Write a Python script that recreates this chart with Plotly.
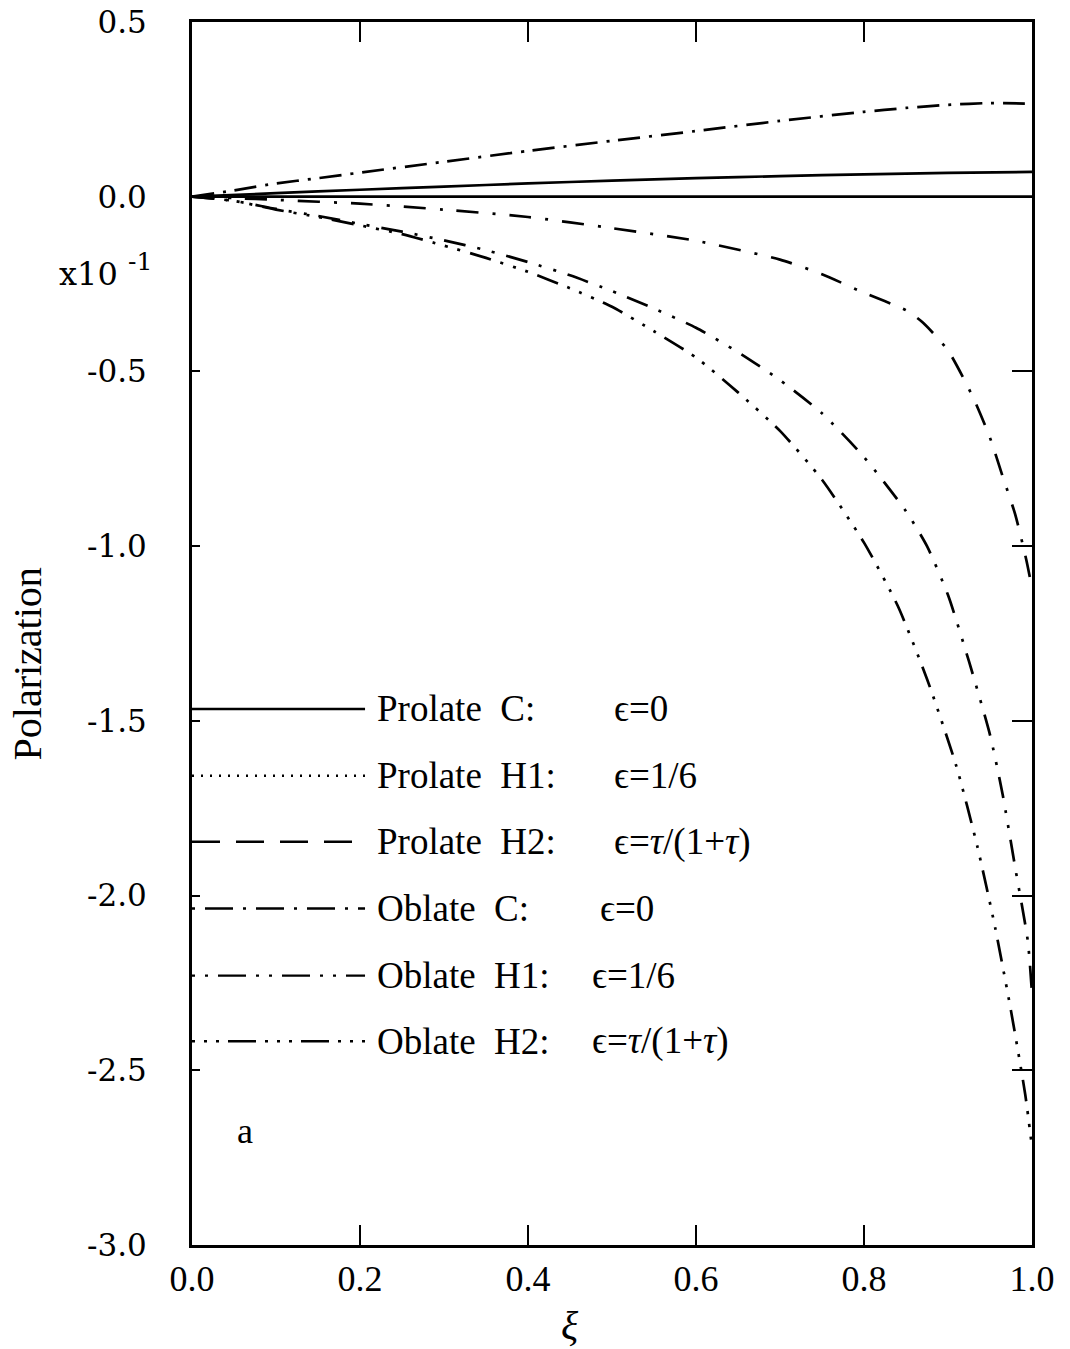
import plotly.graph_objects as go

# ---- curve data (polarization in units of 1e-1) ----
xi_prolate = [0, 0.1, 0.2, 0.3, 0.4, 0.5, 0.6, 0.7, 0.8, 0.9, 1.0]
pol_prolate_c = [0, 0.010, 0.020, 0.029, 0.038, 0.046, 0.053, 0.059, 0.064, 0.068, 0.071]
pol_prolate_h1 = [0, 0, 0, 0, 0, 0, 0, 0, 0, 0, 0]

xi_prolate_h2 = [0, 0.05, 0.1, 0.15, 0.2, 0.3, 0.4, 0.5, 0.6, 0.7, 0.8, 0.85, 0.9, 0.95, 1.0]
pol_prolate_h2 = [0, 0.018, 0.038, 0.053, 0.069, 0.100, 0.131, 0.160, 0.188, 0.217, 0.243,
                  0.254, 0.263, 0.268, 0.266]

xi_oblate_c = [0, 0.05, 0.1, 0.2, 0.3, 0.4, 0.5, 0.6, 0.7, 0.75, 0.8, 0.85, 0.87, 0.9,
               0.93, 0.95, 0.965, 0.98, 0.993, 1.0]
pol_oblate_c = [0, -0.004, -0.009, -0.020, -0.037, -0.058, -0.090, -0.126, -0.180, -0.222,
                -0.275, -0.325, -0.360, -0.440, -0.575, -0.690, -0.800, -0.909, -1.037, -1.12]

xi_oblate_h1 = [0, 0.05, 0.1, 0.15, 0.2, 0.25, 0.3, 0.35, 0.4, 0.45, 0.5, 0.55, 0.6, 0.65,
                0.7, 0.75, 0.8, 0.85, 0.875, 0.9, 0.925, 0.95, 0.965, 0.98, 0.995, 1.0]
pol_oblate_h1 = [0, -0.012, -0.035, -0.055, -0.078, -0.100, -0.125, -0.153, -0.187, -0.225,
                 -0.270, -0.320, -0.375, -0.445, -0.525, -0.620, -0.745, -0.900, -1.000,
                 -1.140, -1.330, -1.540, -1.710, -1.920, -2.130, -2.280]

xi_oblate_h2 = [0, 0.05, 0.1, 0.15, 0.2, 0.25, 0.3, 0.35, 0.4, 0.45, 0.5, 0.55, 0.6, 0.65,
                0.7, 0.75, 0.8, 0.84, 0.875, 0.91, 0.935, 0.956, 0.975, 0.992, 1.0]
pol_oblate_h2 = [0, -0.012, -0.037, -0.058, -0.082, -0.107, -0.140, -0.175, -0.215, -0.262,
                 -0.315, -0.385, -0.460, -0.560, -0.670, -0.810, -0.990, -1.170, -1.380,
                 -1.630, -1.860, -2.090, -2.330, -2.570, -2.720]

# ---- axis ticks ----
x_ticks = [0.0, 0.2, 0.4, 0.6, 0.8, 1.0]
x_ticktext = ["0.0", "0.2", "0.4", "0.6", "0.8", "1.0"]
y_ticks = [0.5, 0.0, -0.5, -1.0, -1.5, -2.0, -2.5, -3.0]
y_ticktext = ["0.5", "0.0", "-0.5", "-1.0", "-1.5", "-2.0", "-2.5", "-3.0"]

# ---- key entries: name, epsilon text, x of epsilon text, dash pattern, row height ----
key_names = ["Prolate  C:", "Prolate  H1:", "Prolate  H2:", "Oblate  C:", "Oblate  H1:", "Oblate  H2:"]
key_eps = ["ϵ=0", "ϵ=1/6", "ϵ=<i>τ</i>/(1+<i>τ</i>)", "ϵ=0", "ϵ=1/6", "ϵ=<i>τ</i>/(1+<i>τ</i>)"]
key_eps_x = [0.500, 0.500, 0.500, 0.483, 0.474, 0.474]
key_dash = ["solid", "2px,7px", "28px,16px", "3px,10px,28px,10px",
            "3px,10px,3px,10px,28px,10px", "3px,9px,3px,9px,3px,9px,28px,9px"]
key_y = [-1.466, -1.657, -1.846, -2.037, -2.229, -2.417]

INK = "#000000"
SERIF = "Liberation Serif, Times New Roman, serif"
SLAB = "DejaVu Serif, serif"

fig = go.Figure()

curves = [
    ("Prolate C", xi_prolate, pol_prolate_c, "solid"),
    ("Prolate H1", xi_prolate, pol_prolate_h1, "solid"),
    ("Prolate H2", xi_prolate_h2, pol_prolate_h2, "22px,9px,3px,9px"),
    ("Oblate C", xi_oblate_c, pol_oblate_c, "22px,14px,3px,14px"),
    ("Oblate H1", xi_oblate_h1, pol_oblate_h1, "22px,12px,3px,12px,3px,12px"),
    ("Oblate H2", xi_oblate_h2, pol_oblate_h2, "22px,10px,3px,10px,3px,10px,3px,10px"),
]
for name, xs, ys, dash in curves:
    fig.add_trace(go.Scatter(x=xs, y=ys, mode="lines", name=name, showlegend=False,
                             line=dict(color=INK, width=2.7, dash=dash,
                                       shape="spline", smoothing=0.6)))

# invisible trace on the right-hand axis so its longer ticks are drawn
fig.add_trace(go.Scatter(x=[0], y=[0], yaxis="y2", mode="markers", showlegend=False,
                         marker=dict(opacity=0), hoverinfo="skip"))

# key: sample line + label, drawn inside the frame
shapes = []
annotations = []
for name, eps, ex, dash, ky in zip(key_names, key_eps, key_eps_x, key_dash, key_y):
    shapes.append(dict(type="line", xref="x", yref="y", x0=0.0, x1=0.206, y0=ky, y1=ky,
                       line=dict(color=INK, width=2.4, dash=dash)))
    annotations.append(dict(xref="x", yref="y", x=0.218, y=ky,
                            text=name.replace("  ", "&nbsp;&nbsp;"),
                            showarrow=False, xanchor="left", yanchor="middle",
                            font=dict(family=SERIF, size=37, color=INK)))
    annotations.append(dict(xref="x", yref="y", x=ex, y=ky, text=eps,
                            showarrow=False, xanchor="left", yanchor="middle",
                            font=dict(family=SERIF, size=37, color=INK)))

annotations += [
    dict(xref="x", yref="y", x=0.063, y=-2.674, text="a", showarrow=False,
         xanchor="center", yanchor="middle", font=dict(family=SERIF, size=36, color=INK)),
    # axis multiplier "x10^-1"
    dict(xref="paper", yref="paper", x=-0.0857, y=0.794, text="x10", showarrow=False,
         xanchor="right", yanchor="middle", font=dict(family=SLAB, size=32, color=INK)),
    dict(xref="paper", yref="paper", x=-0.078, y=0.804, text="-1", showarrow=False,
         xanchor="left", yanchor="middle", font=dict(family=SLAB, size=25, color=INK)),
    dict(xref="paper", yref="paper", x=-0.196, y=0.475, text="Polarization", textangle=-90,
         showarrow=False, xanchor="center", yanchor="middle",
         font=dict(family=SERIF, size=40, color=INK)),
    dict(xref="paper", yref="paper", x=0.45, y=-0.066, text="<i>ξ</i>", showarrow=False,
         xanchor="center", yanchor="middle", font=dict(family=SERIF, size=40, color=INK)),
]

fig.update_layout(
    width=1070, height=1349,
    margin=dict(l=192, r=38, t=22, b=104, autoexpand=False),
    paper_bgcolor="white", plot_bgcolor="white",
    shapes=shapes, annotations=annotations,
    xaxis=dict(range=[0, 1], tickvals=x_ticks, ticktext=x_ticktext, automargin=False,
               ticks="inside", ticklen=20, tickwidth=2.4, tickcolor=INK,
               showline=True, linecolor=INK, linewidth=3, mirror="ticks",
               showgrid=False, zeroline=False,
               tickfont=dict(family=SERIF, size=36, color=INK)),
    yaxis=dict(range=[-3, 0.5], tickvals=y_ticks, ticktext=y_ticktext, automargin=False,
               ticks="inside", ticklen=8, tickwidth=2.4, tickcolor=INK,
               showline=True, linecolor=INK, linewidth=3, mirror=True,
               showgrid=False, zeroline=False, ticklabelstandoff=36,
               tickfont=dict(family=SLAB, size=31, color=INK)),
    yaxis2=dict(range=[-3, 0.5], overlaying="y", side="right", tickvals=y_ticks,
                automargin=False,
                ticks="inside", ticklen=20, tickwidth=2.4, tickcolor=INK,
                showticklabels=False, showline=False, showgrid=False, zeroline=False),
)

fig.write_html("out.html")
